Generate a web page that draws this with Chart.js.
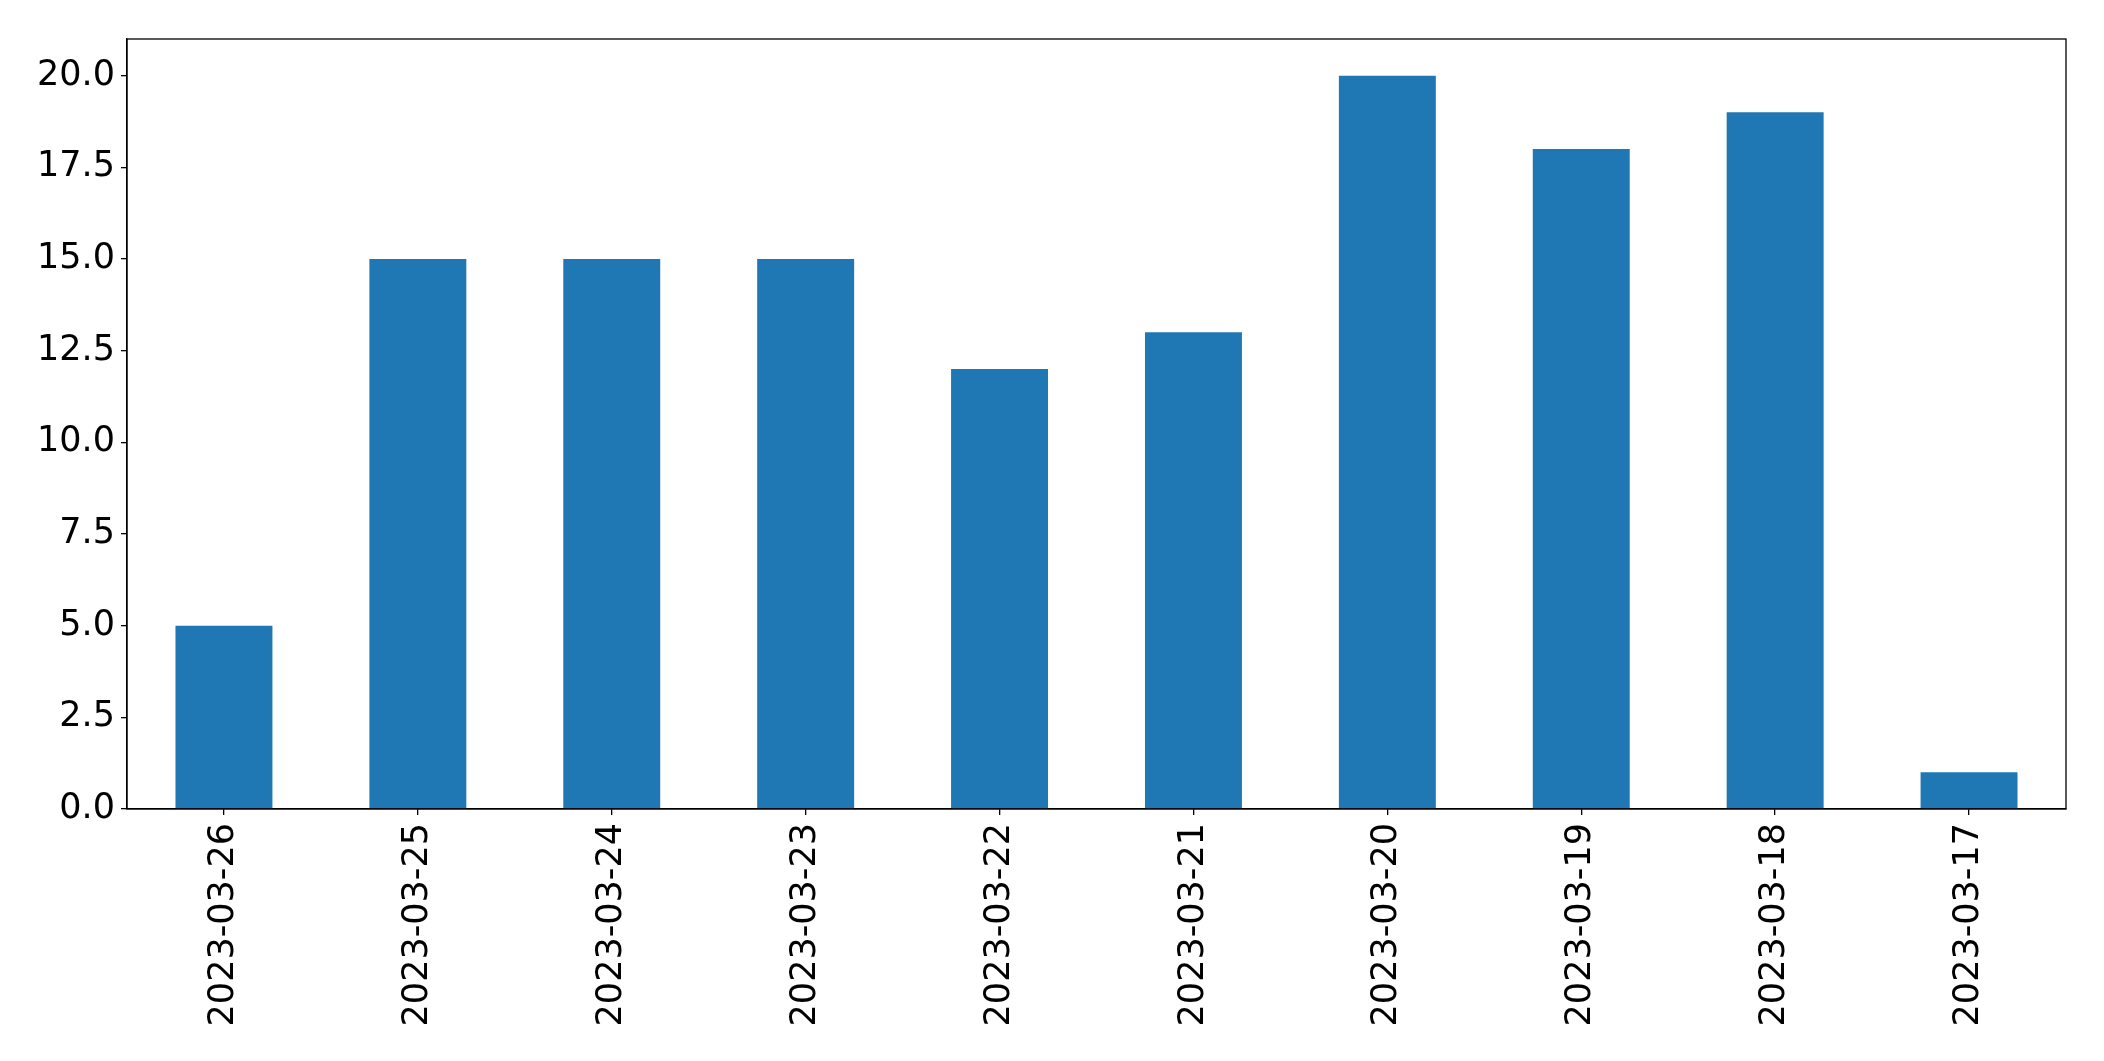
<!DOCTYPE html>
<html>
<head>
<meta charset="utf-8">
<script src="https://cdn.jsdelivr.net/npm/chart.js@4/dist/chart.umd.min.js"></script>
<style>
html,body{margin:0;padding:0;background:#fff;}
canvas{display:block;}
</style>
</head>
<body>
<canvas id="c" width="2104" height="1061"></canvas>
<script>
const categories = ["2023-03-26","2023-03-25","2023-03-24","2023-03-23","2023-03-22","2023-03-21","2023-03-20","2023-03-19","2023-03-18","2023-03-17"];
const values = [5,15,15,15,12,13,20,18,19,1];
const yTicks = [0,2.5,5,7.5,10,12.5,15,17.5,20];

const frame = {
  id: 'frame',
  afterDatasetsDraw(chart) {
    const {ctx, chartArea: a} = chart;
    ctx.save();
    ctx.strokeStyle = '#000';
    ctx.lineWidth = 1.3;
    ctx.strokeRect(a.left, a.top, a.right - a.left, a.bottom - a.top);
    ctx.restore();
  }
};

const font = {family: '"DejaVu Sans", sans-serif', size: 35};

new Chart(document.getElementById('c'), {
  type: 'bar',
  data: {
    labels: categories,
    datasets: [{
      data: values,
      backgroundColor: '#1f77b4',
      borderWidth: 0,
      barPercentage: 0.5,
      categoryPercentage: 1.0
    }]
  },
  options: {
    responsive: false,
    animation: false,
    devicePixelRatio: 1,
    layout: {padding: {top: 39, right: 38, left: 0, bottom: 0}},
    plugins: {legend: {display: false}, tooltip: {enabled: false}},
    scales: {
      x: {
        type: 'category',
        offset: true,
        grid: {display: true, offset: false, drawOnChartArea: false, drawTicks: true, tickLength: 6, color: '#000', lineWidth: 1.3},
        border: {display: true, color: '#000', width: 1.3},
        ticks: {color: '#000', font: font, maxRotation: 90, minRotation: 90, padding: 8, autoSkip: false},
        afterFit(scale) { scale.height = 1061 - 809; }
      },
      y: {
        min: 0,
        max: 21,
        grid: {display: true, drawOnChartArea: false, drawTicks: true, tickLength: 6, color: '#000', lineWidth: 1.3},
        border: {display: true, color: '#000', width: 1.3},
        ticks: {color: '#000', font: font, padding: 6, callback: v => Number(v).toFixed(1)},
        afterBuildTicks(scale) { scale.ticks = yTicks.map(v => ({value: v})); },
        afterFit(scale) { scale.width = 127; }
      }
    }
  },
  plugins: [frame]
});
</script>
</body>
</html>
